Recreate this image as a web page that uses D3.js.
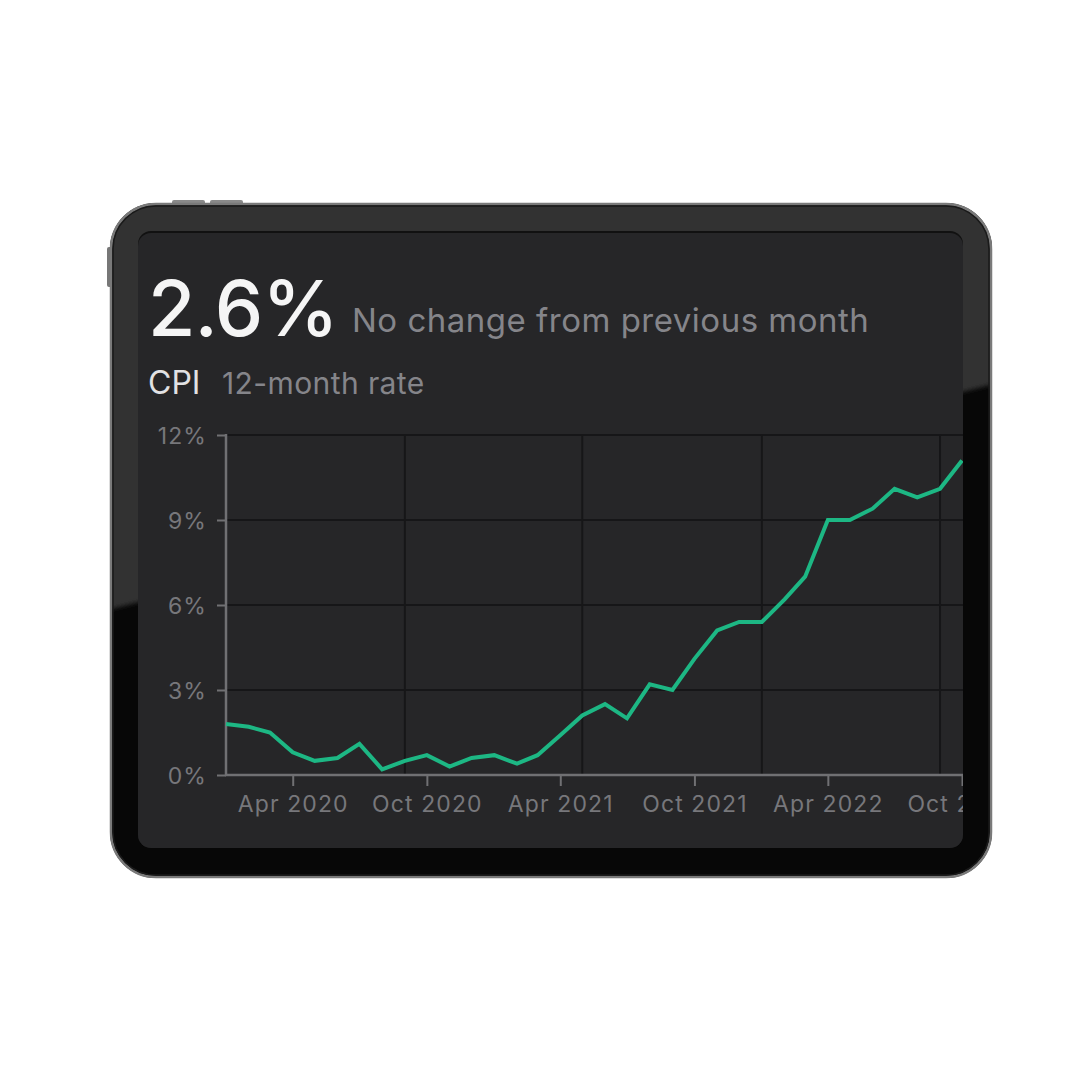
<!DOCTYPE html>
<html><head><meta charset="utf-8">
<script src="https://cdn.jsdelivr.net/npm/d3@7"></script>
<style>html,body{margin:0;padding:0;background:#fff;}svg{display:block;}</style>
</head><body>
<svg id="c" width="1080" height="1080"></svg>
<script>
// ---- data ----
const months = ["2020-01","2020-02","2020-03","2020-04","2020-05","2020-06","2020-07","2020-08","2020-09","2020-10","2020-11","2020-12",
"2021-01","2021-02","2021-03","2021-04","2021-05","2021-06","2021-07","2021-08","2021-09","2021-10","2021-11","2021-12",
"2022-01","2022-02","2022-03","2022-04","2022-05","2022-06","2022-07","2022-08","2022-09","2022-10"];
const cpiRate = [1.8,1.7,1.5,0.8,0.5,0.6,1.1,0.2,0.5,0.7,0.3,0.6,
0.7,0.4,0.7,1.4,2.1,2.5,2.0,3.2,3.0,4.1,5.1,5.4,
5.4,6.2,7.0,9.0,9.0,9.4,10.1,9.8,10.1,11.1];
const yTicks = [0,3,6,9,12];
const xTickMonths = ["2020-04","2020-10","2021-04","2021-10","2022-04","2022-10"];
const xGridMonths = ["2020-09","2021-05","2022-01","2022-09"];
const headline = "2.6%";
const headlineNote = "No change from previous month";
const seriesName = "CPI";
const seriesNote = "12-month rate";

const parse = d3.utcParse("%Y-%m");
const svg = d3.select("#c");
const defs = svg.append("defs");

// ---- device frame ----
const dev = {x:110,y:203,w:882,h:675,r:46};
const scr = {x:138,y:233,w:825,h:615,r:13};

// buttons
svg.append("rect").attr("x",172).attr("y",200).attr("width",33).attr("height",6).attr("rx",2).attr("fill","#8a8a8a");
svg.append("rect").attr("x",210).attr("y",200).attr("width",33).attr("height",6).attr("rx",2).attr("fill","#8a8a8a");
svg.append("rect").attr("x",107).attr("y",247).attr("width",6).attr("height",40).attr("rx",2).attr("fill","#777");

defs.append("clipPath").attr("id","devClip").append("rect")
  .attr("x",dev.x).attr("y",dev.y).attr("width",dev.w).attr("height",dev.h).attr("rx",dev.r);
defs.append("filter").attr("id","soft").append("feGaussianBlur").attr("stdDeviation",2);

svg.append("rect").attr("x",dev.x).attr("y",dev.y).attr("width",dev.w).attr("height",dev.h).attr("rx",dev.r)
  .attr("fill","#070707");
svg.append("g").attr("clip-path","url(#devClip)").append("polygon")
  .attr("points",`${dev.x-10},${dev.y-10} ${dev.x+dev.w+10},${dev.y-10} ${dev.x+dev.w+10},382 ${dev.x-10},612`)
  .attr("fill","#323232").attr("filter","url(#soft)");
svg.append("rect").attr("x",dev.x+1).attr("y",dev.y+1).attr("width",dev.w-2).attr("height",dev.h-2).attr("rx",dev.r-1)
  .attr("fill","none").attr("stroke","#7a7a7a").attr("stroke-width",2.5);
svg.append("rect").attr("x",dev.x+3).attr("y",dev.y+3).attr("width",dev.w-6).attr("height",dev.h-6).attr("rx",dev.r-3)
  .attr("fill","none").attr("stroke","#1a1a1a").attr("stroke-width",1.5);

// screen
svg.append("rect").attr("x",scr.x).attr("y",scr.y-2).attr("width",scr.w).attr("height",scr.h+2).attr("rx",scr.r)
  .attr("fill","#111");
svg.append("rect").attr("x",scr.x).attr("y",scr.y).attr("width",scr.w).attr("height",scr.h).attr("rx",scr.r)
  .attr("fill","#262628");
defs.append("clipPath").attr("id","scrClip").append("rect")
  .attr("x",scr.x).attr("y",scr.y).attr("width",scr.w).attr("height",scr.h).attr("rx",scr.r);

const screen = svg.append("g").attr("clip-path","url(#scrClip)");
const font = "Inter, 'Noto Sans', sans-serif";

// header
screen.append("text").attr("x",148).attr("y",336).attr("font-family",font)
  .attr("font-size",77).attr("font-weight",500).attr("fill","#f5f5f5").attr("letter-spacing",-1).text(headline);
screen.append("text").attr("x",352).attr("y",332).attr("font-family",font)
  .attr("font-size",33).attr("letter-spacing",0.5).attr("fill","#85858a").text(headlineNote);
screen.append("text").attr("x",148).attr("y",394).attr("font-family",font)
  .attr("font-size",32).attr("fill","#e2e2e4").text(seriesName);
screen.append("text").attr("x",222).attr("y",394).attr("font-family",font)
  .attr("font-size",30).attr("letter-spacing",0.4).attr("fill","#85858a").text(seriesNote);

// scales
const x = d3.scaleUtc().domain([parse(months[0]), parse(months[months.length-1])]).range([226, 962]);
const y = d3.scaleLinear().domain([0,12]).range([775, 435]);
const right = scr.x + scr.w + 5;

// grid
const grid = screen.append("g");
grid.selectAll("line.h").data(yTicks).join("line")
  .attr("x1",226).attr("x2",right).attr("y1",d=>y(d)).attr("y2",d=>y(d))
  .attr("stroke","#161618").attr("stroke-width",2);
grid.selectAll("line.v").data(xGridMonths).join("line")
  .attr("x1",d=>x(parse(d))).attr("x2",d=>x(parse(d))).attr("y1",435).attr("y2",775)
  .attr("stroke","#161618").attr("stroke-width",2);

// axes
const axisColor = "#707073";
const yAxis = screen.append("g").attr("transform","translate(226,0)")
  .call(d3.axisLeft(y).tickValues(yTicks).tickSize(9).tickPadding(10).tickFormat(d=>d+"%"));
const xAxis = screen.append("g").attr("transform","translate(0,775)")
  .call(d3.axisBottom(x).tickValues(xTickMonths.map(parse)).tickSize(11).tickPadding(10).tickFormat(d3.utcFormat("%b %Y")));
[yAxis,xAxis].forEach(g=>{
  g.select(".domain").remove();
  g.selectAll(".tick line").attr("stroke",axisColor).attr("stroke-width",2);
  g.selectAll(".tick text").attr("fill","#77777b").attr("font-size",23).attr("letter-spacing",1.1).attr("font-family",font);
});
yAxis.selectAll(".tick text").attr("dy","0.35em");
screen.append("line").attr("x1",226).attr("x2",226).attr("y1",434).attr("y2",776).attr("stroke",axisColor).attr("stroke-width",2.5);
screen.append("line").attr("x1",225).attr("x2",right).attr("y1",775).attr("y2",775).attr("stroke",axisColor).attr("stroke-width",2.5);

// line
const line = d3.line().x((d,i)=>x(parse(months[i]))).y(d=>y(d));
screen.append("path").datum(cpiRate).attr("d",line)
  .attr("fill","none").attr("stroke","#1db784").attr("stroke-width",4)
  .attr("stroke-linejoin","miter").attr("stroke-linecap","butt");
</script>
</body></html>
